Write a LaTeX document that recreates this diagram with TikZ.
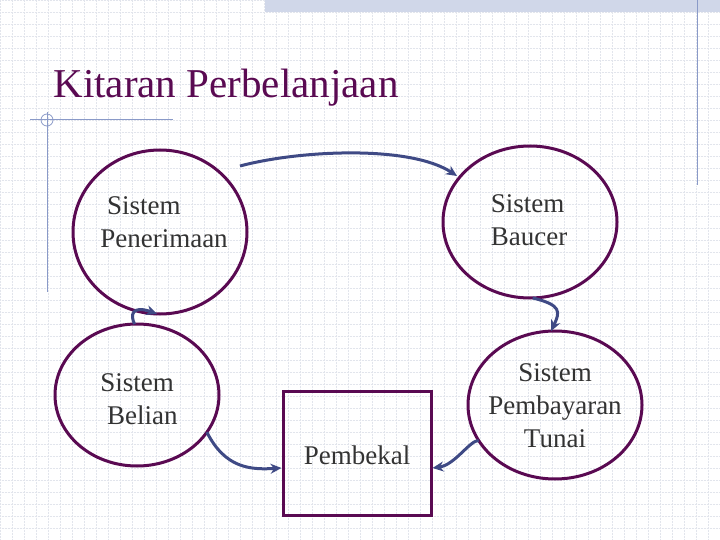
\documentclass[tikz,border=0pt]{standalone}
\usepackage{fontspec}
\setmainfont{Liberation Serif}
\usetikzlibrary{shapes.geometric,arrows.meta}
\definecolor{pur}{HTML}{5A0A52}
\definecolor{arr}{HTML}{3F4A85}
\definecolor{gridc}{HTML}{E2E5EC}
\definecolor{lin}{HTML}{8A9AC8}
\tikzset{
 ell/.style={ellipse,draw=pur,line width=3pt,inner sep=0pt,outer sep=0pt},
 lbl/.style={align=left,font=\fontsize{27}{33}\selectfont,text=black!80},
 conn/.style={draw=arr,line width=3pt,-{Stealth[length=11pt,width=10pt]}}
}
\begin{document}
\begin{tikzpicture}[x=1pt,y=-1pt]
\useasboundingbox (0,0) rectangle (720,540);
\fill[white] (0,0) rectangle (720,540);
\foreach \i in {0,12,...,720} \draw[gridc,densely dotted,line width=0.5pt] (\i,0)--(\i,540);
\foreach \i in {0,12,...,540} \draw[gridc,densely dotted,line width=0.5pt] (0,\i)--(720,\i);
\fill[lin!40] (265,0) rectangle (720,12);
\draw[lin,line width=1pt] (697,0)--(697,185);
\draw[lin,line width=1pt] (47,112)--(47,292);
\draw[lin,line width=1pt] (30,120)--(173,120);
\draw[lin,line width=0.8pt] (47,120) circle (6);
\node[anchor=west,text=pur,font=\fontsize{41}{45}\selectfont] (title) at (50,88) {Kitaran Perbelanjaan};
\node[ell,minimum width=174,minimum height=164] (e1) at (160,232) {};
\node[lbl] (t1) at (164,222) {\ Sistem\\Penerimaan};
\node[ell,minimum width=174,minimum height=152] (e2) at (530,222) {};
\node[lbl] (t2) at (529,220) {Sistem\\Baucer};
\node[ell,minimum width=164,minimum height=142] (e3) at (137,395) {};
\node[lbl] (t3) at (139,399) {Sistem\\\ Belian};
\node[ell,minimum width=174,minimum height=148] (e4) at (555,405) {};
\node[lbl,align=center] (t4) at (555,406) {Sistem\\Pembayaran\\Tunai};
\node[draw=pur,line width=3pt,minimum width=148,minimum height=124] (r) at (357,453) {};
\node[lbl] (tr) at (357,455) {Pembekal};
\coordinate (s1) at (240,166);
\coordinate (f1) at (457,176);
\draw[conn] (s1) .. controls (300,150) and (410,145) .. (f1);
\draw[conn] (e2.-88) .. controls (562,305) and (560,312) .. (e4.93);
\draw[conn] (e3.92) .. controls (130,315) and (132,305) .. (e1.-92);
\draw[conn] (e3.-28) .. controls (225,468) and (250,470) .. (r.west |- 0,468);
\draw[conn] (e4.205) .. controls (470,440) and (455,465) .. (r.east |- 0,468);
\end{tikzpicture}
\end{document}
